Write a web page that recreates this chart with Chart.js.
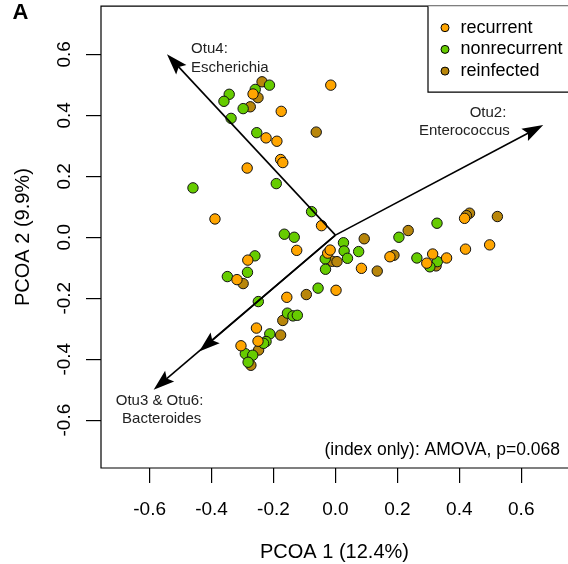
<!DOCTYPE html>
<html lang="en">
<head>
    <meta charset="UTF-8">
    <title>PCOA biplot</title>
    <style>
        html, body { margin: 0; padding: 0; background: #fff; overflow: hidden; }
        #wrap { position: relative; width: 568px; height: 564px; }
    </style>
    <script src="https://cdn.jsdelivr.net/npm/chart.js@4.4.1/dist/chart.umd.min.js"></script>
</head>
<body>
    <div id="wrap"><canvas id="pcoa"></canvas></div>

    <script>
        // groups
        const groupNames = ['recurrent', 'nonrecurrent', 'reinfected'];
        const groupColors = ['#FFA500', '#66CC00', '#B8860B'];

        // sample scores (PCOA 1, PCOA 2)
        const recurrentX = [-0.015, -0.266, -0.175, -0.224, -0.189, -0.177, -0.170, -0.285, -0.389, -0.045, -0.125, -0.025, -0.017, 0.084, 0.176, 0.314, 0.359, 0.295, 0.420, 0.498, 0.417, 0.002, -0.157, -0.283, -0.318, -0.255, -0.250, -0.305];
        const recurrentY = [0.499, 0.470, 0.413, 0.326, 0.315, 0.255, 0.245, 0.227, 0.060, 0.038, -0.043, -0.052, -0.042, -0.102, -0.064, -0.055, -0.068, -0.085, -0.039, -0.025, 0.062, -0.174, -0.197, -0.075, -0.139, -0.298, -0.341, -0.356];

        const nonrecurrentX = [-0.213, -0.259, -0.343, -0.360, -0.298, -0.337, -0.254, -0.191, -0.460, -0.077, -0.165, -0.133, 0.026, 0.205, 0.328, 0.028, 0.075, 0.039, -0.033, -0.032, 0.263, 0.329, 0.305, -0.056, -0.260, -0.284, -0.349, -0.249, -0.155, -0.137, -0.123, -0.212, -0.224, -0.232, -0.291, -0.267, -0.282];
        const nonrecurrentY = [0.499, 0.485, 0.469, 0.446, 0.422, 0.390, 0.343, 0.176, 0.162, 0.084, 0.010, 0.000, -0.018, 0.000, 0.046, -0.045, -0.047, -0.069, -0.071, -0.105, -0.068, -0.080, -0.097, -0.167, -0.061, -0.115, -0.129, -0.211, -0.249, -0.258, -0.256, -0.317, -0.342, -0.348, -0.382, -0.387, -0.410];

        const reinfectedX = [-0.237, -0.250, -0.275, -0.062, 0.093, 0.235, 0.433, 0.423, 0.523, 0.189, 0.135, -0.010, 0.005, 0.325, -0.094, -0.298, -0.170, -0.177, -0.248, -0.273];
        const reinfectedY = [0.510, 0.458, 0.428, 0.345, -0.005, 0.022, 0.079, 0.071, 0.068, -0.059, -0.111, -0.079, -0.080, -0.094, -0.188, -0.152, -0.273, -0.321, -0.370, -0.420];

        const xTicks = [-0.6, -0.4, -0.2, 0, 0.2, 0.4, 0.6];
        const yTicks = [-0.6, -0.4, -0.2, 0, 0.2, 0.4, 0.6];

        // OTU loading vectors, all drawn from the origin
        const arrowFromX = 0;
        const arrowFromY = 0.007;
        const arrowToX = [-0.544, 0.671, -0.440, -0.587];
        const arrowToY = [0.600, 0.368, -0.375, -0.500];

        const FONT = '"Liberation Sans", Arial, Helvetica, sans-serif';
        Chart.defaults.font.family = FONT;
        Chart.defaults.color = '#000';

        function pts(xs, ys) {
            return xs.map((v, i) => ({ x: v, y: ys[i] }));
        }

        // box, vectors, their labels, legend and the panel letter
        const biplot = {
            id: 'biplot',
            afterDatasetsDraw(chart, args, opts) {
                const { ctx, chartArea: a, scales: { x, y } } = chart;
                ctx.save();

                // plot frame (right side runs off the page)
                ctx.strokeStyle = '#000';
                ctx.lineWidth = 1.2;
                ctx.beginPath();
                ctx.moveTo(a.right + 5, a.top);
                ctx.lineTo(a.left, a.top);
                ctx.lineTo(a.left, a.bottom);
                ctx.lineTo(a.right + 5, a.bottom);
                ctx.stroke();

                const x0 = x.getPixelForValue(arrowFromX);
                const y0 = y.getPixelForValue(arrowFromY);
                ctx.lineWidth = 1.6;
                ctx.fillStyle = '#000';
                arrowToX.forEach((v, i) => {
                    const x1 = x.getPixelForValue(v);
                    const y1 = y.getPixelForValue(arrowToY[i]);
                    const ang = Math.atan2(y1 - y0, x1 - x0);
                    const c = Math.cos(ang), s = Math.sin(ang);
                    const len = 21, half = 7;
                    ctx.beginPath();
                    ctx.moveTo(x0, y0);
                    ctx.lineTo(x1 - c * len * 0.8, y1 - s * len * 0.8);
                    ctx.stroke();
                    ctx.beginPath();
                    ctx.moveTo(x1, y1);
                    ctx.lineTo(x1 - len * c + half * s, y1 - len * s - half * c);
                    ctx.lineTo(x1 - 0.82 * len * c, y1 - 0.82 * len * s);
                    ctx.lineTo(x1 - len * c - half * s, y1 - len * s + half * c);
                    ctx.closePath();
                    ctx.fill();
                });

                // vector labels
                ctx.fillStyle = '#222';
                ctx.font = '15px ' + FONT;
                ctx.textBaseline = 'middle';
                opts.labels.forEach(l => {
                    ctx.textAlign = l.align;
                    ctx.fillText(l.text, x.getPixelForValue(l.x), y.getPixelForValue(l.y));
                });

                // test result
                ctx.fillStyle = '#000';
                ctx.font = '17.5px ' + FONT;
                ctx.textAlign = 'right';
                ctx.fillText('(index only): AMOVA, p=0.068', a.right - 8, a.bottom - 18);

                // legend box in the top right corner
                const lx = a.right - 140, lh = 86;
                ctx.fillStyle = '#fff';
                ctx.fillRect(lx, a.top, a.right - lx + 5, lh);
                ctx.lineWidth = 1.2;
                ctx.beginPath();
                ctx.moveTo(lx, a.top);
                ctx.lineTo(lx, a.top + lh);
                ctx.lineTo(a.right + 5, a.top + lh);
                ctx.stroke();
                ctx.font = '18px ' + FONT;
                ctx.textAlign = 'left';
                chart.data.datasets.forEach((ds, i) => {
                    const ry = a.top + 21.5 + i * 21.7;
                    ctx.beginPath();
                    ctx.arc(lx + 17, ry, 4, 0, Math.PI * 2);
                    ctx.fillStyle = ds.backgroundColor;
                    ctx.fill();
                    ctx.lineWidth = 1;
                    ctx.stroke();
                    ctx.fillStyle = '#000';
                    ctx.fillText(ds.label, lx + 32.5, ry);
                });

                ctx.font = 'bold 22px ' + FONT;
                ctx.textBaseline = 'alphabetic';
                ctx.fillText('A', 12.5, 18.5);
                ctx.restore();
            }
        };

        const datasets = [
            [recurrentX, recurrentY],
            [nonrecurrentX, nonrecurrentY],
            [reinfectedX, reinfectedY]
        ].map((d, i) => ({
            label: groupNames[i],
            data: pts(d[0], d[1]),
            backgroundColor: groupColors[i],
            borderColor: '#111',
            borderWidth: 1,
            pointRadius: 5.2,
            pointHoverRadius: 5.2
        }));

        const chart = new Chart(document.getElementById('pcoa'), {
            type: 'scatter',
            data: { datasets: datasets },
            options: {
                responsive: true,
                maintainAspectRatio: false,
                animation: false,
                events: [],
                layout: { padding: { top: 6, right: 0, bottom: 0, left: 0 } },
                plugins: {
                    legend: { display: false },
                    tooltip: { enabled: false },
                    biplot: {
                        labels: [
                            { text: 'Otu4:', x: -0.466, y: 0.617, align: 'left' },
                            { text: 'Escherichia', x: -0.466, y: 0.555, align: 'left' },
                            { text: 'Otu2:', x: 0.552, y: 0.407, align: 'right' },
                            { text: 'Enterococcus', x: 0.563, y: 0.349, align: 'right' },
                            { text: 'Otu3 & Otu6:', x: -0.568, y: -0.537, align: 'center' },
                            { text: 'Bacteroides', x: -0.561, y: -0.596, align: 'center' }
                        ]
                    }
                },
                scales: {
                    x: {
                        type: 'linear',
                        min: -0.757,
                        max: 0.751,
                        afterBuildTicks: s => { s.ticks = xTicks.map(v => ({ value: v })); },
                        afterFit: s => { s.height = 96; s.paddingLeft = 0; s.paddingRight = 0; },
                        grid: { drawOnChartArea: false, drawTicks: true, tickLength: 15, color: '#000', lineWidth: 1.2 },
                        border: { display: false },
                        ticks: {
                            padding: 15,
                            maxRotation: 0,
                            font: { size: 19 },
                            color: '#000',
                            callback: v => v.toFixed(1)
                        },
                        title: { display: true, text: 'PCOA 1 (12.4%)', font: { size: 20 }, color: '#000', padding: { top: 0, bottom: 0 } }
                    },
                    y: {
                        type: 'linear',
                        min: -0.757,
                        max: 0.758,
                        afterBuildTicks: s => { s.ticks = yTicks.map(v => ({ value: v })); },
                        afterFit: s => { s.width = 101; s.paddingTop = 0; s.paddingBottom = 0; },
                        grid: { drawOnChartArea: false, drawTicks: true, tickLength: 15, color: '#000', lineWidth: 1.2 },
                        border: { display: false },
                        ticks: {
                            padding: 5,
                            minRotation: 90,
                            maxRotation: 90,
                            crossAlign: 'center',
                            font: { size: 19 },
                            color: '#000',
                            callback: v => v.toFixed(1)
                        },
                        title: { display: true, text: 'PCOA 2 (9.9%)', font: { size: 20 }, color: '#000', padding: { top: 11, bottom: 0 } }
                    }
                }
            },
            plugins: [biplot]
        });

        // the layout keeps a few px free on the right; widen the canvas past the
        // page edge so the plot box runs off it like in the original figure
        const gap = chart.width - chart.chartArea.right;
        if (gap > 0) {
            const w = 568 + gap;
            document.getElementById('wrap').style.width = w + 'px';
            chart.resize(w, 564);
        }
    </script>
</body>
</html>
